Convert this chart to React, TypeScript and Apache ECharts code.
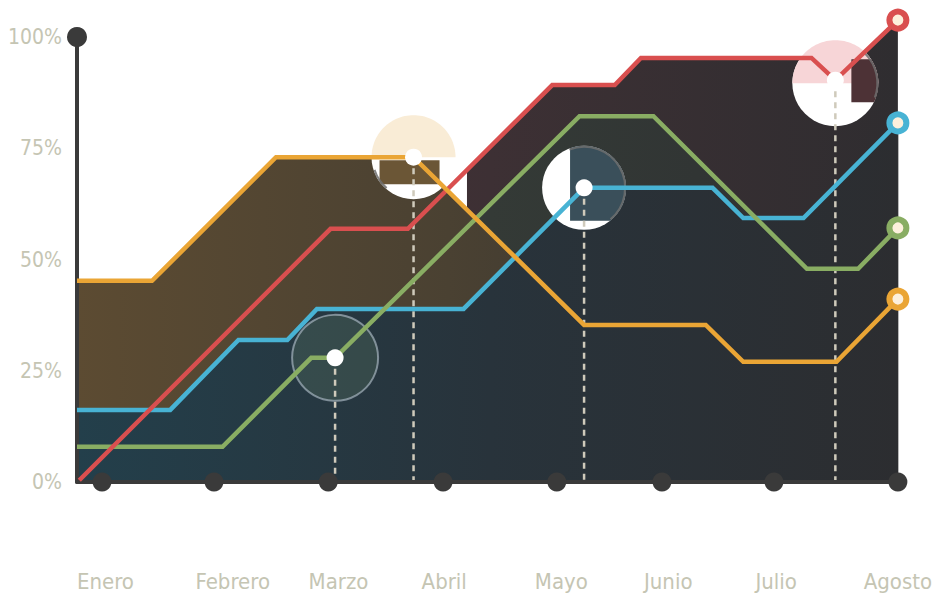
import React, { useEffect, useRef } from 'react';
import * as echarts from 'echarts';

// ---- data (x: month index, y: percent) ----
const months = ['Enero', 'Febrero', 'Marzo', 'Abril', 'Mayo', 'Junio', 'Julio', 'Agosto'];
const monthLabelX = [0.03, 1.15, 2.08, 3.01, 4.04, 4.98, 5.93, 7.0];
const monthDotX = [0, 0.985, 1.99, 3.0, 4.0, 4.925, 5.91, 7.0];
const yTicks = [0, 25, 50, 75, 100];
const xMin = -0.22;
const xMax = 7.045;

const orange = [[-0.22, 45.2], [0.44, 45.2], [1.53, 73.0], [2.74, 73.0], [4.24, 35.3], [5.31, 35.3], [5.64, 27.0], [6.46, 27.0], [7.0, 41.1]];
const red = [[-0.2, 0.4], [2.01, 56.9], [2.69, 56.9], [3.96, 89.2], [4.51, 89.2], [4.74, 95.3], [6.24, 95.3], [6.45, 90.3], [7.0, 103.8]];
const redFillStart = [3.21, 70.1];
const blue = [[-0.22, 16.2], [0.6, 16.2], [1.2, 31.9], [1.63, 31.9], [1.89, 38.9], [3.18, 38.9], [4.24, 66.1], [5.37, 66.1], [5.64, 59.3], [6.17, 59.3], [7.0, 80.7]];
const green = [[-0.22, 7.9], [1.06, 7.9], [1.84, 27.9], [2.05, 27.9], [4.2, 82.2], [4.85, 82.2], [6.2, 47.9], [6.65, 47.9], [7.0, 57.1]];
const focus = [[2.05, 27.9], [2.74, 73.0], [4.24, 66.1], [6.45, 90.3]];

// ---- styles ----
const C = { red: '#d94f4f', orange: '#eaa535', blue: '#48b3d4', green: '#89ad63', axis: '#3a3a3a', text: '#c5c5b3' };
const FONT = "'Liberation Sans Narrow', 'DejaVu Sans Condensed', 'Roboto Condensed', sans-serif";

const lensStyles: any[] = [
  { r: 43, fill: 'rgba(165,205,150,0.13)', stroke: 'rgba(185,198,210,0.6)' },
  { r: 42, fill: '#ffffff', pale: '#f9ecd6', rect: [-34, 3, 26, 27], rectColor: '#6b5636', arc: [131, 162] },
  { r: 42, fill: '#ffffff', rect: [-14, -44, 44, 33], rectColor: '#3a4f5a', arc: [249, 410] },
  { r: 43, fill: '#ffffff', pale: '#f7d5d7', rect: [16, -24, 44, 19], rectColor: '#4d3236', arc: [-45, 20], dy: 3 },
];

function grad(stops: [number, string][]) {
  return {
    type: 'linear', x: 77, y: 0, x2: 903, y2: 0, global: true,
    colorStops: stops.map(([offset, color]) => ({ offset, color })),
  };
}

function clipAxis(pts: number[][], axis: number, bound: number, keepLess: boolean) {
  const out: number[][] = [];
  for (let i = 0; i < pts.length; i++) {
    const a = pts[i], b = pts[(i + 1) % pts.length];
    const ina = keepLess ? a[axis] <= bound : a[axis] >= bound;
    const inb = keepLess ? b[axis] <= bound : b[axis] >= bound;
    if (ina) out.push(a);
    if (ina !== inb) {
      const t = (bound - a[axis]) / (b[axis] - a[axis]);
      out.push([a[0] + (b[0] - a[0]) * t, a[1] + (b[1] - a[1]) * t]);
    }
  }
  return out;
}

function clipCircle(cx: number, cy: number, r: number, x0: number, y0: number, x1: number, y1: number) {
  let pts: number[][] = [];
  for (let i = 0; i < 120; i++) {
    const a = (i / 120) * Math.PI * 2;
    pts.push([cx + r * Math.cos(a), cy + r * Math.sin(a)]);
  }
  pts = clipAxis(pts, 0, x0, false);
  pts = clipAxis(pts, 0, x1, true);
  pts = clipAxis(pts, 1, y0, false);
  pts = clipAxis(pts, 1, y1, true);
  return pts;
}

function areaSeries(data: number[][], stops: [number, string][]) {
  return {
    type: 'line', data, symbol: 'none', clip: false, z: 1, silent: true,
    lineStyle: { width: 0, opacity: 0 },
    areaStyle: { color: grad(stops), opacity: 1 },
  };
}

function lineSeries(data: number[][], color: string, extra: any = {}) {
  const n = data.length;
  return {
    type: 'line', clip: false, z: 5, silent: true, showSymbol: true,
    data: data.map((p, i) => i === n - 1
      ? { value: p, symbol: 'circle', symbolSize: 17, itemStyle: { color: '#fdf0dc', borderColor: color, borderWidth: 6 } }
      : { value: p, symbol: 'none' }),
    lineStyle: { color, width: 4.5, cap: 'butt', join: 'miter' },
    ...extra,
  };
}

function monthFor(v: number) {
  let best = 0;
  monthLabelX.forEach((x, i) => { if (Math.abs(x - v) < Math.abs(monthLabelX[best] - v)) best = i; });
  return months[best];
}

export default function App() {
  const ref = useRef<HTMLDivElement>(null);
  useEffect(() => {
    document.body.style.margin = '0';
    const chart = echarts.init(ref.current!, undefined, { renderer: 'svg' });
    const blueEnd = blue[blue.length - 1];
    chart.setOption({
      animation: false,
      backgroundColor: '#ffffff',
      grid: { left: 77, right: 30, top: 37, bottom: 114, containLabel: false, outerBoundsMode: 'none' },
      xAxis: {
        type: 'value', min: xMin, max: xMax, z: 4,
        axisLine: { show: true, onZero: false, lineStyle: { color: C.axis, width: 4 } },
        axisTick: { show: false },
        splitLine: { show: false },
        axisLabel: {
          customValues: monthLabelX,
          formatter: (v: number) => monthFor(v),
          margin: 88, color: C.text, fontSize: 22, fontFamily: FONT,
        },
      },
      yAxis: {
        type: 'value', min: 0, max: 100, interval: 25, z: 4,
        axisLine: { show: true, onZero: false, lineStyle: { color: C.axis, width: 4 } },
        axisTick: { show: false },
        splitLine: { show: false },
        axisLabel: {
          customValues: yTicks,
          formatter: '{value}%', margin: 15, color: C.text, fontSize: 21, fontFamily: FONT,
        },
      },
      series: [
        areaSeries([redFillStart, ...red.filter((p) => p[0] > redFillStart[0])], [[0, '#4a2e38'], [0.5, '#3d3034'], [1, '#2f2d30']]),
        areaSeries(green, [[0, '#3b4a3b'], [0.5, '#343a36'], [1, '#2e3032']]),
        areaSeries(orange, [[0, '#5c4b32'], [0.45, '#4a4132'], [1, '#2e2e30']]),
        areaSeries(blue, [[0, '#233f4b'], [0.5, '#28333b'], [1, '#2c2d30']]),
        {
          type: 'custom', coordinateSystem: 'cartesian2d', z: 2, silent: true, clip: false,
          data: focus,
          renderItem: (params: any, api: any) => {
            const s = lensStyles[params.dataIndex];
            const c = api.coord([api.value(0), api.value(1)]);
            const cx = c[0], cy = c[1] + (s.dy || 0);
            const children: any[] = [
              { type: 'circle', shape: { cx, cy, r: s.r }, style: { fill: s.fill, stroke: s.stroke || null, lineWidth: 2 } },
            ];
            if (s.pale) {
              children.push({ type: 'polygon', shape: { points: clipCircle(cx, cy, s.r, -1e6, -1e6, 1e6, cy) }, style: { fill: s.pale } });
            }
            if (s.rect) {
              children.push({
                type: 'polygon',
                shape: { points: clipCircle(cx, cy, s.r, cx + s.rect[0], cy + s.rect[1], cx + s.rect[2], cy + s.rect[3]) },
                style: { fill: s.rectColor },
              });
            }
            if (s.arc) {
              children.push({
                type: 'arc',
                shape: { cx, cy, r: s.r - 1, startAngle: (s.arc[0] * Math.PI) / 180, endAngle: (s.arc[1] * Math.PI) / 180, clockwise: true },
                style: { stroke: 'rgba(110,110,110,0.85)', lineWidth: 2, fill: null },
              });
            }
            return { type: 'group', children };
          },
        },
        {
          type: 'custom', coordinateSystem: 'cartesian2d', z: 3, silent: true, clip: false,
          data: focus,
          renderItem: (_params: any, api: any) => {
            const top = api.coord([api.value(0), api.value(1)]);
            const bot = api.coord([api.value(0), 0]);
            return {
              type: 'line',
              shape: { x1: top[0], y1: top[1], x2: bot[0], y2: bot[1] },
              style: { stroke: '#cfcabb', lineWidth: 2.5, lineDash: [6, 5] },
            };
          },
        },
        lineSeries(blue, C.blue, {
          markLine: {
            silent: true, symbol: 'none', label: { show: false },
            lineStyle: { color: 'rgba(165,165,165,0.8)', width: 1, type: 'solid' },
            data: [[{ coord: blueEnd }, { coord: [blueEnd[0], 0] }]],
          },
        }),
        lineSeries(green, C.green),
        lineSeries(red, C.red),
        lineSeries(orange, C.orange),
        {
          type: 'scatter', z: 6, silent: true, symbol: 'circle', symbolSize: 19,
          itemStyle: { color: C.axis, opacity: 1 },
          data: monthDotX.map((x) => [x, 0]),
        },
        {
          type: 'scatter', z: 6, silent: true, symbol: 'circle', symbolSize: 20,
          itemStyle: { color: C.axis, opacity: 1 },
          data: [[xMin, 100]],
        },
        {
          type: 'scatter', z: 7, silent: true, symbol: 'circle', symbolSize: 17,
          itemStyle: { color: '#ffffff', opacity: 1 },
          data: focus,
        },
      ],
    });
    return () => chart.dispose();
  }, []);
  return <div ref={ref} style={{ position: 'fixed', left: 0, top: 0, width: 933, height: 596, background: '#fff' }} />;
}
